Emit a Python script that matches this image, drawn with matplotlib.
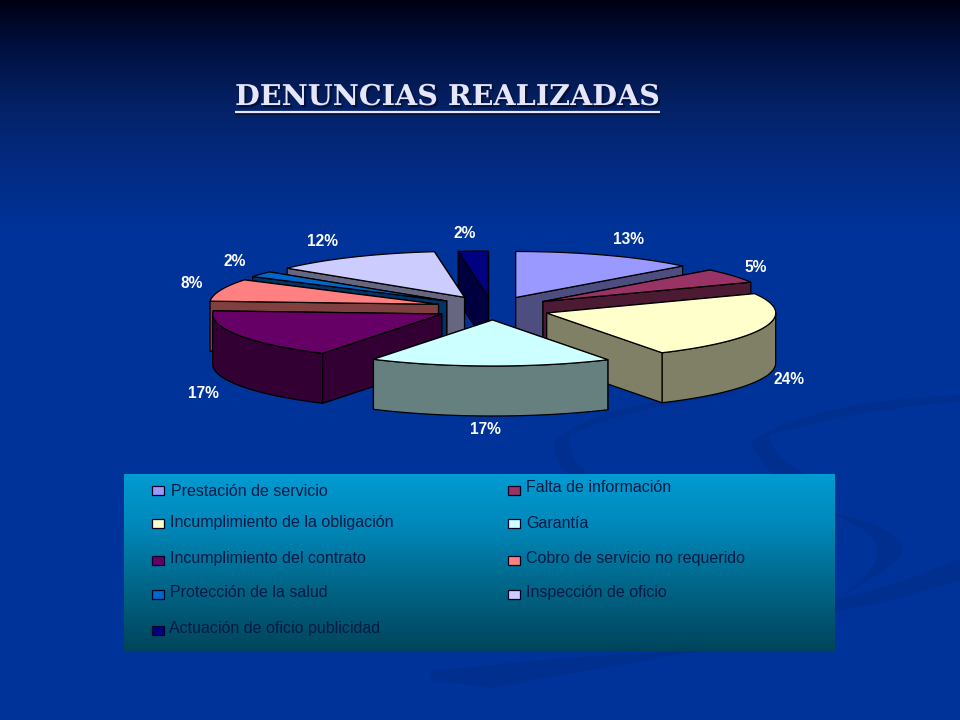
import numpy as np
import matplotlib
matplotlib.use("Agg")
import matplotlib.pyplot as plt
from matplotlib.patches import Polygon, Rectangle, PathPatch
from matplotlib.path import Path
import matplotlib.patheffects as pe

# ---- data ----
categories = ["Prestación de servicio", "Falta de información",
              "Incumplimiento de la obligación", "Garantía",
              "Incumplimiento del contrato", "Cobro de servicio no requerido",
              "Protección de la salud", "Inspección de oficio",
              "Actuación de oficio publicidad"]
values = [13.0, 5.1, 23.5, 17.1, 17.4, 7.8, 2.0, 12.0, 2.1]
colors = ["#9999FF", "#993366", "#FFFFCC", "#CCFFFF", "#660066",
          "#FF8080", "#0066CC", "#CCCCFF", "#000080"]
title = "DENUNCIAS REALIZADAS"

# ---- layout (pixel-like axes) ----
tip_x = [515.7, 543.0, 546.7, 492.5, 441.7, 438.5, 446.7, 464.5, 488.3]
tip_y = [297.5, 301.5, 313.0, 320.0, 314.0, 304.3, 301.0, 297.3, 297.0]
label_x = [629, 756, 789, 485, 203, 192, 235, 322, 465]
label_y = [240, 267, 380, 430, 393, 284, 261, 242, 234]
draw_order = [8, 0, 7, 6, 1, 5, 4, 2, 3]
RX, RY, DEPTH = 229.0, 46.0, 50.0

legend_x = [151.5, 508.3, 151.5, 508.3, 151.5, 508.3, 151.5, 508.3, 151.5]
legend_y = [485.7, 485.7, 519.4, 519.4, 555.7, 555.7, 590.0, 590.0, 625.7]
legend_tx = [171, 526, 170, 526, 170, 526, 170, 526, 169]
legend_ty = [491.5, 487.5, 522.5, 523, 558, 558.5, 592.7, 593, 628]

fig = plt.figure(figsize=(9.6, 7.2), dpi=100)
ax = fig.add_axes([0, 0, 1, 1])
ax.set_xlim(0, 960)
ax.set_ylim(720, 0)
ax.axis("off")

# background gradient
ys = np.arange(720)
stops = [0, 12, 40, 100, 160, 230, 720]
bg = np.stack([np.interp(ys, stops, c) for c in (
    [0, 0, 0, 4, 3, 0, 0],
    [0, 4, 14, 32, 42, 51, 51],
    [16, 30, 58, 98, 128, 153, 153])], axis=1)[:, None, :] / 255
ax.imshow(bg, extent=(0, 960, 720, 0), aspect="auto", zorder=0)

# faint swirls of the slide template
swirl = "#002F90"
C3, L, M = Path.CURVE3, Path.LINETO, Path.MOVETO
swirls = [
    ([(745, 392), (600, 400), (555, 440), (552, 460), (570, 476), (590, 476),
      (565, 455), (570, 435), (620, 410), (745, 392)],
     [M, C3, C3, C3, C3, L, C3, C3, C3, C3]),
    ([(960, 395), (820, 400), (752, 440), (752, 455), (775, 476), (810, 476),
      (768, 455), (770, 435), (860, 408), (960, 402)],
     [M, C3, C3, C3, C3, L, C3, C3, C3, C3]),
    ([(835, 513), (905, 530), (903, 550), (900, 565), (838, 598),
      (880, 570), (878, 550), (875, 530), (835, 516)],
     [M, C3, C3, C3, C3, C3, C3, C3, C3]),
    ([(835, 600), (900, 585), (960, 558), (960, 580), (900, 600), (835, 612)],
     [M, C3, C3, L, C3, C3]),
    ([(430, 672), (560, 655), (700, 651), (600, 668), (490, 688), (430, 680)],
     [M, C3, C3, C3, C3, L]),
]
for pts, codes in swirls:
    ax.add_patch(PathPatch(Path(pts, codes), fc=swirl, ec="none", zorder=1))


def shade(c, f=0.5):
    return tuple(f * v for v in matplotlib.colors.to_rgb(c))


def arc(cx, cy, a0, a1):
    t = np.radians(np.linspace(a0, a1, 60))
    return np.column_stack([cx + RX * np.sin(t), cy - RY * np.cos(t)])


def poly(pts, fc, z):
    ax.add_patch(Polygon(pts, closed=True, fc=fc, ec="black", lw=0.9,
                         joinstyle="round", zorder=z))


# exploded 3-D pie: angles come from the values
frac = np.array(values) / np.sum(values)
edges = np.concatenate([[0], np.cumsum(frac)]) * 360
z = 3.0
down = np.array([0, DEPTH])
for i in draw_order:
    a0, a1, cx, cy = edges[i], edges[i + 1], tip_x[i], tip_y[i]
    side = shade(colors[i])
    tip = np.array([cx, cy])
    p0, p1 = arc(cx, cy, a0, a0)[0], arc(cx, cy, a1, a1)[0]
    front0 = np.sin(np.radians(a0)) < 0
    front1 = np.sin(np.radians(a1)) > 0
    faces = [(front0, p0), (front1, p1)]
    for is_front, p in faces:
        if not is_front:
            poly([tip, p, p + down, tip + down], side, z)
            z += 0.01
    w0, w1 = max(a0, 90), min(a1, 270)
    if w1 > w0:
        top_edge = arc(cx, cy, w0, w1)
        poly(np.vstack([top_edge, (top_edge + down)[::-1]]), side, z)
        z += 0.01
    for is_front, p in faces:
        if is_front:
            poly([tip, p, p + down, tip + down], side, z)
            z += 0.01
    poly(np.vstack([[tip], arc(cx, cy, a0, a1)]), colors[i], z)
    z += 0.01

for v, x, y in zip(values, label_x, label_y):
    ax.text(x, y, f"{v:.0f}%", color="white", fontsize=11.2, fontweight="bold",
            family="Liberation Sans", ha="center", va="center", zorder=8)

# title
ax.text(235, 96.5, title, family="DejaVu Serif", fontsize=20.6, fontweight="bold",
        color="#E6E6FA", ha="left", va="center", zorder=9,
        path_effects=[pe.withSimplePatchShadow(offset=(1.6, -1.6), shadow_rgbFace="#05103A", alpha=1.0)])
ax.plot([235, 660], [113.5, 113.5], color="#05103A", lw=1.6, zorder=8.9, solid_capstyle="butt")
ax.plot([235, 660], [112, 112], color="#E6E6FA", lw=1.6, zorder=9, solid_capstyle="butt")

# legend panel
grad = np.stack([np.interp(np.linspace(0, 1, 177), [0, 0.3, 0.6, 1], c) for c in (
    [0, 0, 0, 0], [155, 135, 105, 68], [210, 185, 140, 92])], axis=1)[:, None, :] / 255
ax.imshow(grad, extent=(124, 835, 651, 474), aspect="auto", zorder=2)
ax.set_xlim(0, 960)
ax.set_ylim(720, 0)

for name, c, bx, by, tx, ty in zip(categories, colors, legend_x, legend_y, legend_tx, legend_ty):
    ax.add_patch(Rectangle((bx, by), 12, 8.8, fc=c, ec="#000020", lw=0.9, zorder=3))
    ax.text(tx, ty, name, family="Liberation Sans", fontsize=11.55, color="#021A45",
            ha="left", va="center", zorder=4)

fig.savefig("out.png", dpi=100)
